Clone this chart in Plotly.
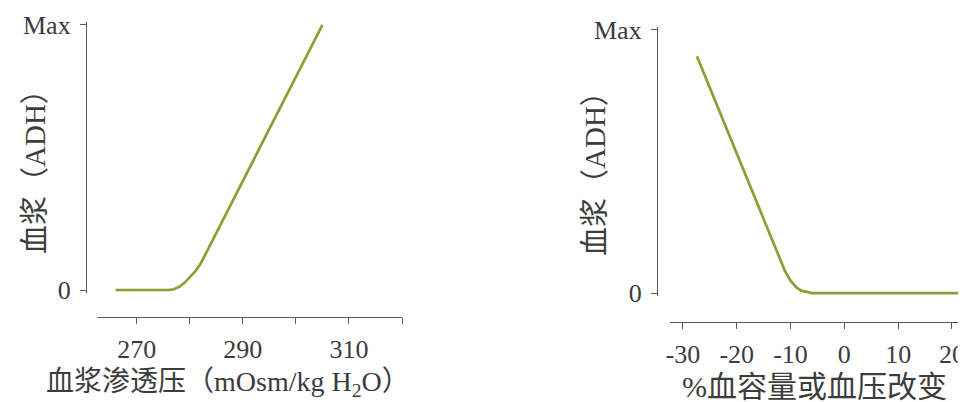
import plotly.graph_objects as go

# left panel: plasma osmolality vs ADH
osm_x = [266, 270, 274, 276, 277, 278, 279, 280, 281, 282, 283, 285, 290, 295, 300, 305]
osm_y = [0, 0, 0, 0, 0.003, 0.012, 0.027, 0.047, 0.070, 0.098, 0.137, 0.215, 0.41, 0.605, 0.80, 1.0]
osm_ticks = [270, 290, 310]
osm_ticktext = ["270", "290", "310"]
osm_minor_step = 10

# right panel: % change in blood volume / pressure vs ADH
vol_x = [-27.4, -20, -15, -12, -11, -10, -9, -8, -7, -6, 0, 10, 24]
vol_y = [0.90, 0.53, 0.28, 0.13, 0.082, 0.047, 0.023, 0.009, 0.003, 0, 0, 0, 0]
vol_ticks = [-30, -20, -10, 0, 10, 20]
vol_ticktext = ["-30", "-20", "-10", "0", "10", "20"]

adh_ticks = [0, 1]
adh_ticktext = ["0", "Max"]

W, H = 966, 402
OFF = 8  # page body margin
FONT = "Liberation Serif, Noto Sans CJK SC, serif"
TXT = "#3c3c3c"
AX = "#5a5a5a"
LINE = "#919d34"


def px_x(p):
    return (p - OFF) / W


def px_y(p):
    return 1 - (p - OFF) / H


fig = go.Figure()
fig.add_trace(go.Scatter(x=osm_x, y=osm_y, mode="lines", xaxis="x", yaxis="y",
                         line=dict(color=LINE, width=2.7), hoverinfo="skip"))
fig.add_trace(go.Scatter(x=vol_x, y=vol_y, mode="lines", xaxis="x2", yaxis="y2",
                         line=dict(color=LINE, width=2.7), hoverinfo="skip"))

common = dict(showline=True, linecolor=AX, linewidth=1.3, ticks="outside", ticklen=6,
              tickwidth=1.2, tickcolor=AX, showgrid=False, zeroline=False, automargin=False,
              tickfont=dict(family=FONT, size=26, color=TXT), fixedrange=True)

title_font = dict(family=FONT, size=29, color=TXT)

fig.update_layout(
    width=W, height=H,
    margin=dict(l=0, r=0, t=0, b=0, autoexpand=False),
    paper_bgcolor="white", plot_bgcolor="white",
    showlegend=False,
    xaxis=dict(common, domain=[px_x(97), px_x(402)], range=[262.5, 320],
               anchor="free", position=px_y(317), ticklabelstandoff=3,
               tickvals=osm_ticks, ticktext=osm_ticktext,
               minor=dict(tickmode="linear", tick0=osm_ticks[0], dtick=osm_minor_step,
                          ticks="outside", ticklen=6, tickwidth=1.2, tickcolor=AX,
                          showgrid=False)),
    yaxis=dict(common, domain=[px_y(293.2), px_y(21.8)], range=[-0.012, 1.012],
               anchor="free", position=px_x(86), ticklabelstandoff=4,
               tickvals=adh_ticks, ticktext=adh_ticktext),
    xaxis2=dict(common, domain=[px_x(670), 1.0], range=[-32.4, 24.1],
                anchor="free", position=px_y(322), ticklabelstandoff=3,
                tickvals=vol_ticks, ticktext=vol_ticktext),
    yaxis2=dict(common, domain=[px_y(296.2), px_y(26.8)], range=[-0.012, 1.012],
                anchor="free", position=px_x(657), ticklabelstandoff=4,
                tickvals=adh_ticks, ticktext=adh_ticktext),
    annotations=[
        dict(text="血浆（ADH）", x=px_x(35), y=px_y(165), xref="paper", yref="paper",
             xanchor="center", yanchor="middle", textangle=-90, showarrow=False,
             font=title_font),
        dict(text="血浆渗透压（mOsm/kg H<sub>2</sub>O）", x=px_x(44), y=px_y(383),
             xref="paper", yref="paper", xanchor="left", yanchor="middle", showarrow=False,
             font=dict(title_font, size=28)),
        dict(text="血浆（ADH）", x=px_x(595), y=px_y(167), xref="paper", yref="paper",
             xanchor="center", yanchor="middle", textangle=-90, showarrow=False,
             font=title_font),
        dict(text="%血容量或血压改变", x=px_x(814), y=px_y(386), xref="paper", yref="paper",
             xanchor="center", yanchor="middle", showarrow=False,
             font=dict(title_font, size=30)),
    ],
)

fig.write_html("out.html")
